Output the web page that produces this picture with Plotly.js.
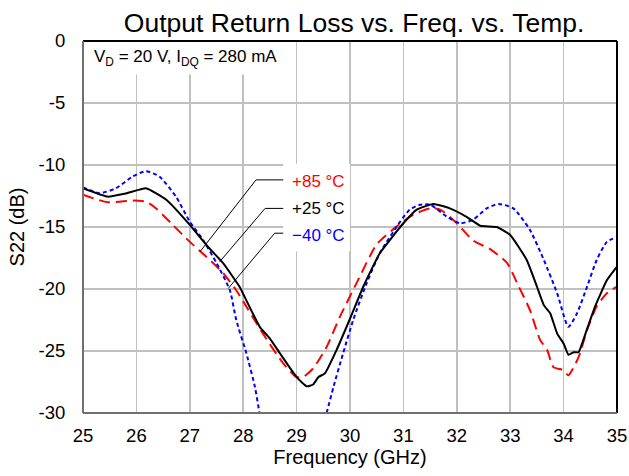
<!DOCTYPE html>
<html>
<head>
<meta charset="utf-8">
<script src="https://cdn.plot.ly/plotly-3.0.1.min.js"></script>
<style>html,body{margin:0;padding:0;background:#fff;}#chart{width:629px;height:476px;}</style>
</head>
<body>
<div id="chart"></div>
<script>
// Data (Frequency GHz, S22 dB)
const freq25 = [25.0, 25.46, 25.8, 26.18, 26.56, 27.0, 27.31, 27.62, 27.93, 28.0, 28.31, 28.5, 28.69, 29.0, 29.19, 29.31, 29.41, 29.53, 29.75, 30.0, 30.25, 30.56, 31.0, 31.25, 31.56, 31.87, 32.19, 32.44, 32.75, 33.0, 33.31, 33.5, 33.63, 33.75, 33.88, 34.0, 34.09, 34.19, 34.28, 34.41, 34.59, 34.81, 35.0];
const s22_25 = [-11.87, -12.55, -12.3, -11.87, -12.8, -14.83, -16.45, -17.9, -19.8, -20.4, -23.05, -24.0, -25.2, -27.1, -27.85, -27.7, -27.1, -26.8, -24.9, -22.4, -19.8, -17.1, -14.7, -13.6, -13.14, -13.5, -14.2, -14.9, -15.0, -15.64, -17.66, -19.8, -21.3, -21.97, -23.6, -24.4, -25.3, -25.1, -25.1, -23.6, -21.4, -19.3, -18.2];

const freq85 = [25.0, 25.46, 25.93, 26.18, 26.37, 26.68, 27.0, 27.31, 27.62, 27.87, 28.0, 28.37, 28.75, 29.0, 29.12, 29.31, 29.56, 29.81, 30.12, 30.5, 30.87, 31.19, 31.5, 31.69, 32.0, 32.31, 32.63, 32.94, 33.16, 33.37, 33.56, 33.69, 33.81, 34.0, 34.09, 34.28, 34.44, 34.62, 34.81, 35.0];
const s22_85 = [-12.4, -13.0, -12.87, -12.95, -13.5, -14.83, -16.2, -17.4, -18.7, -20.1, -21.0, -23.6, -26.0, -27.1, -27.1, -26.4, -24.7, -22.25, -19.55, -16.4, -14.97, -14.0, -13.5, -13.6, -14.7, -16.1, -16.8, -17.9, -19.8, -21.7, -24.1, -24.9, -26.3, -26.55, -26.96, -25.5, -23.3, -21.4, -20.35, -19.8];

const freqM40 = [25.0, 25.31, 25.62, 25.93, 26.18, 26.43, 26.74, 27.0, 27.25, 27.5, 27.75, 27.87, 28.06, 28.22, 28.31, 28.6, 29.0, 29.3, 29.56, 29.69, 29.87, 30.06, 30.31, 30.56, 30.94, 31.12, 31.31, 31.5, 31.81, 32.06, 32.31, 32.56, 32.78, 33.06, 33.37, 33.63, 33.88, 34.09, 34.25, 34.44, 34.62, 34.81, 35.0];
const s22_M40 = [-11.8, -12.27, -11.87, -10.93, -10.5, -10.93, -12.55, -14.57, -16.05, -17.9, -20.1, -22.5, -25.2, -27.9, -30.06, -35.0, -37.5, -35.0, -30.06, -27.9, -25.2, -22.5, -19.55, -17.1, -14.57, -13.6, -13.2, -13.2, -14.16, -14.7, -14.4, -13.5, -13.14, -13.5, -15.24, -17.66, -20.35, -23.05, -21.97, -19.8, -17.66, -16.2, -15.8];

const xTicks = [25, 26, 27, 28, 29, 30, 31, 32, 33, 34, 35];
const yTicks = [0, -5, -10, -15, -20, -25, -30];
const yTickText = ["0", "-5", "-10", "-15", "-20", "-25", "-30"];
const seriesNames = ["+85 °C", "+25 °C", "−40 °C"];

const font = "Liberation Sans, Arial, sans-serif";

const traces = [
  {x: freq85, y: s22_85, mode: 'lines', name: seriesNames[0], line: {color: '#ff0000', width: 2, dash: '11px,6px', shape: 'spline', smoothing: 0.6}},
  {x: freqM40, y: s22_M40, mode: 'lines', name: seriesNames[2], line: {color: '#0000ff', width: 2, dash: '4px,3px', shape: 'spline', smoothing: 0.6}},
  {x: freq25, y: s22_25, mode: 'lines', name: seriesNames[1], line: {color: '#000000', width: 2, shape: 'spline', smoothing: 0.4}}
];

const layout = {
  width: 629, height: 476,
  margin: {l: 83, r: 12, t: 41, b: 63},
  paper_bgcolor: '#fff', plot_bgcolor: '#fff',
  showlegend: false,
  font: {family: font, color: '#000'},
  title: {text: 'Output Return Loss vs. Freq. vs. Temp.', font: {family: font, size: 26.5, color: '#000'},
          xref: 'container', x: 0.563, xanchor: 'center', yref: 'container', y: 0.953, yanchor: 'middle'},
  xaxis: {range: [25, 35], tickvals: xTicks, ticktext: xTicks.map(String), showgrid: true, gridcolor: '#c0c0c0', gridwidth: 1.5,
          zeroline: false, showline: false, ticks: 'outside', ticklen: 6, tickcolor: 'rgba(0,0,0,0)', tickfont: {size: 18.5, family: font},
          title: {text: 'Frequency (GHz)', font: {size: 20, family: font}, standoff: 2}},
  yaxis: {range: [-30, 0], tickvals: yTicks, ticktext: yTickText, showgrid: true, gridcolor: '#c0c0c0', gridwidth: 1.5,
          zeroline: false, showline: false, ticks: 'outside', ticklen: 13, tickcolor: 'rgba(0,0,0,0)', tickfont: {size: 18.5, family: font},
          title: {text: 'S22 (dB)', font: {size: 20, family: font}, standoff: 8}},
  shapes: [
    // white boxes behind labels (cover gridlines)
    {type: 'rect', layer: 'between', xref: 'x', yref: 'y', x0: 25, x1: 28.88, y0: 0, y1: -2.7, fillcolor: '#fff', line: {width: 0}},
    {type: 'rect', layer: 'between', xref: 'x', yref: 'y', x0: 28.75, x1: 30.0, y0: -9.9, y1: -16.95, fillcolor: '#fff', line: {width: 0}},
    // leader lines
    {type: 'path', xref: 'x', yref: 'y', path: 'M28.75,-11.2 L28.24,-11.2 L27.19,-17.0', line: {color: '#000', width: 1}},
    {type: 'path', xref: 'x', yref: 'y', path: 'M28.75,-13.5 L28.41,-13.5 L27.56,-17.8', line: {color: '#000', width: 1}},
    {type: 'path', xref: 'x', yref: 'y', path: 'M28.75,-15.5 L28.59,-15.5 L27.72,-19.95', line: {color: '#000', width: 1}},
    // frame
    {type: 'line', xref: 'paper', yref: 'paper', x0: 0, x1: 1, y0: 1, y1: 1, line: {color: '#000', width: 2}},
    {type: 'line', xref: 'paper', yref: 'paper', x0: 1, x1: 1, y0: 0, y1: 1, line: {color: '#000', width: 2}},
    {type: 'line', xref: 'paper', yref: 'paper', x0: 0, x1: 0, y0: 0, y1: 1, line: {color: '#707070', width: 2}},
    {type: 'line', xref: 'paper', yref: 'paper', x0: 0, x1: 1, y0: 0, y1: 0, line: {color: '#707070', width: 2}}
  ],
  annotations: [
    {xref: 'x', yref: 'y', x: 25.16, y: -1.4, xanchor: 'left', yanchor: 'middle', showarrow: false,
     text: 'V<sub>D</sub> = 20 V, I<sub>DQ</sub> = 280 mA', font: {size: 17, family: font, color: '#000'}},
    {xref: 'x', yref: 'y', x: 28.87, y: -11.35, xanchor: 'left', yanchor: 'middle', showarrow: false,
     text: seriesNames[0], font: {size: 17, family: font, color: '#ff0000'}},
    {xref: 'x', yref: 'y', x: 28.87, y: -13.5, xanchor: 'left', yanchor: 'middle', showarrow: false,
     text: seriesNames[1], font: {size: 17, family: font, color: '#000'}},
    {xref: 'x', yref: 'y', x: 28.87, y: -15.65, xanchor: 'left', yanchor: 'middle', showarrow: false,
     text: seriesNames[2], font: {size: 17, family: font, color: '#0000ff'}}
  ]
};

Plotly.newPlot('chart', traces, layout, {displayModeBar: false, staticPlot: true});
</script>
</body>
</html>
